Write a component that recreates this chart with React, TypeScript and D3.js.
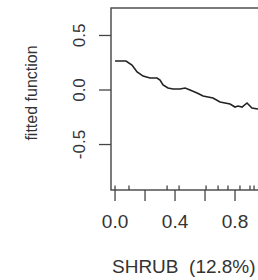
import React, { useEffect, useRef } from 'react';
import * as d3 from 'd3';

// partial dependence of the fitted function on SHRUB
const shrub = [0.0, 0.073, 0.113, 0.147, 0.187, 0.233, 0.28, 0.3, 0.32, 0.353, 0.387, 0.433, 0.467, 0.5, 0.547, 0.587, 0.62, 0.653, 0.7, 0.767, 0.8, 0.82, 0.847, 0.88, 0.913, 0.953, 1.0];
const fitted = [0.266, 0.266, 0.229, 0.165, 0.128, 0.11, 0.11, 0.092, 0.046, 0.018, 0.009, 0.009, 0.018, 0.0, -0.028, -0.055, -0.064, -0.073, -0.11, -0.128, -0.156, -0.147, -0.156, -0.119, -0.165, -0.174, -0.18];

// deciles of SHRUB (rug)
const rug = [0, 0.093, 0.347, 0.427, 0.607, 0.687, 0.753, 0.833, 0.9, 0.927, 1.0];

const xTicks = [0, 0.2, 0.4, 0.6, 0.8, 1.0];
const xTickLabels = ['0.0', '', '0.4', '', '0.8', ''];
const yTicks = [-0.5, 0, 0.5];
const yTickLabels = ['-0.5', '0.0', '0.5'];

const xLabel = 'SHRUB  (12.8%)';
const yLabel = 'fitted function';

const App = () => {
  const ref = useRef<SVGSVGElement>(null);

  useEffect(() => {
    drawChart();
  }, []); // eslint-disable-line react-hooks/exhaustive-deps

  const drawChart = () => {
    const svg = d3.select(ref.current);
    svg.selectAll('*').remove();

    const left = 111;
    const right = 271;
    const top = 8;
    const bottom = 190;
    const ink = '#222';
    const font = 'Liberation Sans, Arial, sans-serif';

    const x = d3.scaleLinear().domain([-0.027, 1.04]).range([left, right]);
    const y = d3.scaleLinear().domain([-0.917, 0.752]).range([bottom, top]);

    // box
    svg
      .append('rect')
      .attr('x', left)
      .attr('y', top)
      .attr('width', right - left)
      .attr('height', bottom - top)
      .attr('fill', 'none')
      .attr('stroke', '#444')
      .attr('stroke-width', 1.4);

    // curve
    const line = d3
      .line<number>()
      .x((d) => x(d))
      .y((d, i) => y(fitted[i]));

    svg
      .append('path')
      .datum(shrub)
      .attr('d', line)
      .attr('fill', 'none')
      .attr('stroke', ink)
      .attr('stroke-width', 1.6);

    // x axis ticks
    svg
      .append('g')
      .selectAll('line')
      .data(xTicks)
      .enter()
      .append('line')
      .attr('x1', (d) => x(d))
      .attr('x2', (d) => x(d))
      .attr('y1', bottom)
      .attr('y2', bottom + 11)
      .attr('stroke', '#444')
      .attr('stroke-width', 1.3);

    svg
      .append('g')
      .selectAll('text')
      .data(xTicks)
      .enter()
      .append('text')
      .attr('x', (d) => x(d))
      .attr('y', 228)
      .attr('text-anchor', 'middle')
      .attr('font-family', font)
      .attr('font-size', 19)
      .attr('fill', '#333')
      .text((d, i) => xTickLabels[i]);

    // rug
    svg
      .append('g')
      .selectAll('line')
      .data(rug)
      .enter()
      .append('line')
      .attr('x1', (d) => x(d))
      .attr('x2', (d) => x(d))
      .attr('y1', bottom)
      .attr('y2', bottom - 4.5)
      .attr('stroke', '#444')
      .attr('stroke-width', 1.3);

    // y axis ticks
    svg
      .append('g')
      .selectAll('line')
      .data(yTicks)
      .enter()
      .append('line')
      .attr('x1', left - 12)
      .attr('x2', left)
      .attr('y1', (d) => y(d))
      .attr('y2', (d) => y(d))
      .attr('stroke', '#444')
      .attr('stroke-width', 1.3);

    svg
      .append('g')
      .selectAll('text')
      .data(yTicks)
      .enter()
      .append('text')
      .attr('transform', (d) => `translate(85,${y(d)}) rotate(-90)`)
      .attr('text-anchor', 'middle')
      .attr('font-family', font)
      .attr('font-size', 17)
      .attr('fill', '#333')
      .text((d, i) => yTickLabels[i]);

    // axis titles
    svg
      .append('text')
      .attr('x', 112)
      .attr('y', 273)
      .attr('font-family', font)
      .attr('font-size', 19)
      .attr('fill', '#333')
      .attr('xml:space', 'preserve')
      .style('white-space', 'pre')
      .text(xLabel);

    svg
      .append('text')
      .attr('transform', 'translate(37,93) rotate(-90)')
      .attr('text-anchor', 'middle')
      .attr('font-family', font)
      .attr('font-size', 16)
      .attr('fill', '#333')
      .text(yLabel);
  };

  return (
    <div>
      <svg
        ref={ref}
        width="258"
        height="280"
        style={{ position: 'absolute', left: 0, top: 0, background: '#fff' }}
      ></svg>
    </div>
  );
};

export default App;
